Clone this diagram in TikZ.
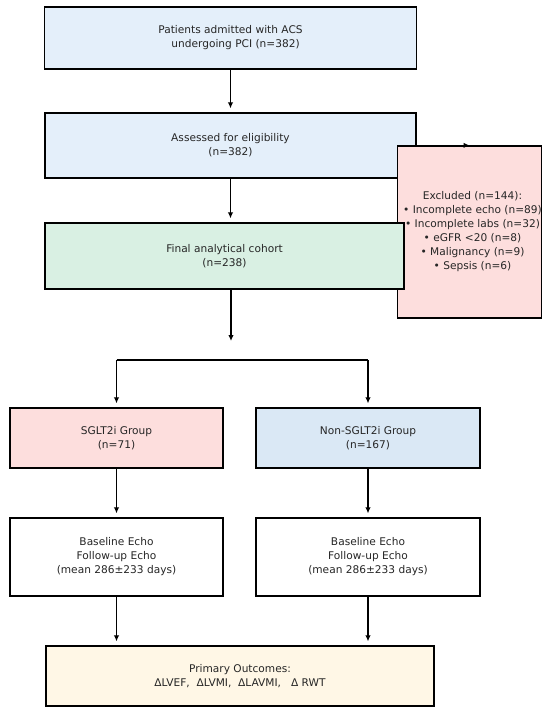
\documentclass[tikz,border=0pt]{standalone}
\usepackage{fontspec}
\setmainfont{DejaVu Sans}
\usepackage{xcolor}
\usepackage{tikz}
\usetikzlibrary{positioning, arrows.meta, calc}

\definecolor{paleblue}{HTML}{E4EFFA}
\definecolor{palegreen}{HTML}{D9F0E3}
\definecolor{palepink}{HTML}{FDDEDD}
\definecolor{groupblue}{HTML}{DAE8F5}
\definecolor{palecream}{HTML}{FFF7E6}

\begin{document}
\begin{tikzpicture}[
      x=1pt, y=-1pt,
      font=\fontsize{10.6}{14}\selectfont,
      text=black!85,
      box/.style={
        draw,
        line width=1.3pt,
        align=center,
        inner sep=0pt
      },
      arrow/.style={
        -{Latex[length=6pt,width=5.5pt]},
        line width=1.2pt,
        shorten >=4pt
      }
    ]

    \useasboundingbox (0,0) rectangle (550,716);

    \node[box, fill=paleblue, minimum width=372pt, minimum height=62pt] (admit) at (230.5,38) {
      Patients admitted with ACS\\
      \ \ \ undergoing PCI (n=382)
    };

    \node[box, fill=paleblue, minimum width=371pt, minimum height=65pt] (assess) at (230.5,145.5) {
      Assessed for eligibility\\
      (n=382)
    };

    \node[box, fill=palepink, minimum width=143pt, minimum height=172pt] (excluded) at (469.5,232) {
      \fontsize{10.6}{13.4}\selectfont
      \hspace*{6pt}Excluded (n=144):\\
      \hspace*{6pt}• Incomplete echo (n=89)\\
      \hspace*{6pt}• Incomplete labs (n=32)\\
      \hspace*{6pt}• eGFR <20 (n=8)\\
      \hspace*{6pt}• Malignancy (n=9)\\
      \hspace*{6pt}• Sepsis (n=6)
    };

    \node[box, fill=palegreen, minimum width=359pt, minimum height=66pt] (cohort) at (224.5,256) {
      Final analytical cohort\\
      (n=238)
    };

    \node[box, fill=palepink, minimum width=213pt, minimum height=60pt] (sglt) at (116.5,438) {
      SGLT2i Group\\
      (n=71)
    };

    \node[box, fill=groupblue, minimum width=224pt, minimum height=60pt] (nonsglt) at (368,438) {
      Non-SGLT2i Group\\
      (n=167)
    };

    \node[box, fill=white, minimum width=213pt, minimum height=78pt] (echoA) at (116.5,557) {
      Baseline Echo\\
      Follow-up Echo\\
      (mean 286±233 days)
    };

    \node[box, fill=white, minimum width=224pt, minimum height=78pt] (echoB) at (368,557) {
      Baseline Echo\\
      Follow-up Echo\\
      (mean 286±233 days)
    };

    \node[box, fill=palecream, minimum width=388pt, minimum height=60pt] (outcomes) at (240,676) {
      Primary Outcomes:\\
      ΔLVEF,\ \ ΔLVMI,\ \ ΔLAVMI,\ \ \ Δ RWT
    };

    \coordinate (fork) at (231,341);
    \coordinate (branch) at (0,360);

    \draw[arrow] (admit.south) -- (assess.north);
    \draw[arrow, shorten >=0pt] (assess.east |- excluded.north) -- (excluded.north);
    \draw[arrow] (assess.south) -- (assess.south |- cohort.north);
    \draw[arrow, shorten >=0pt] (cohort.south -| fork) -- (fork);

    \draw[line width=1.2pt] (branch -| sglt.north) -- (branch -| nonsglt.north);
    \draw[arrow] (branch -| sglt.north) -- (sglt.north);
    \draw[arrow] (branch -| nonsglt.north) -- (nonsglt.north);

    \draw[arrow] (sglt.south) -- (echoA.north);
    \draw[arrow] (nonsglt.south) -- (echoB.north);
    \draw[arrow] (echoA.south) -- (echoA.south |- outcomes.north);
    \draw[arrow] (echoB.south) -- (echoB.south |- outcomes.north);

    \end{tikzpicture}
\end{document}
